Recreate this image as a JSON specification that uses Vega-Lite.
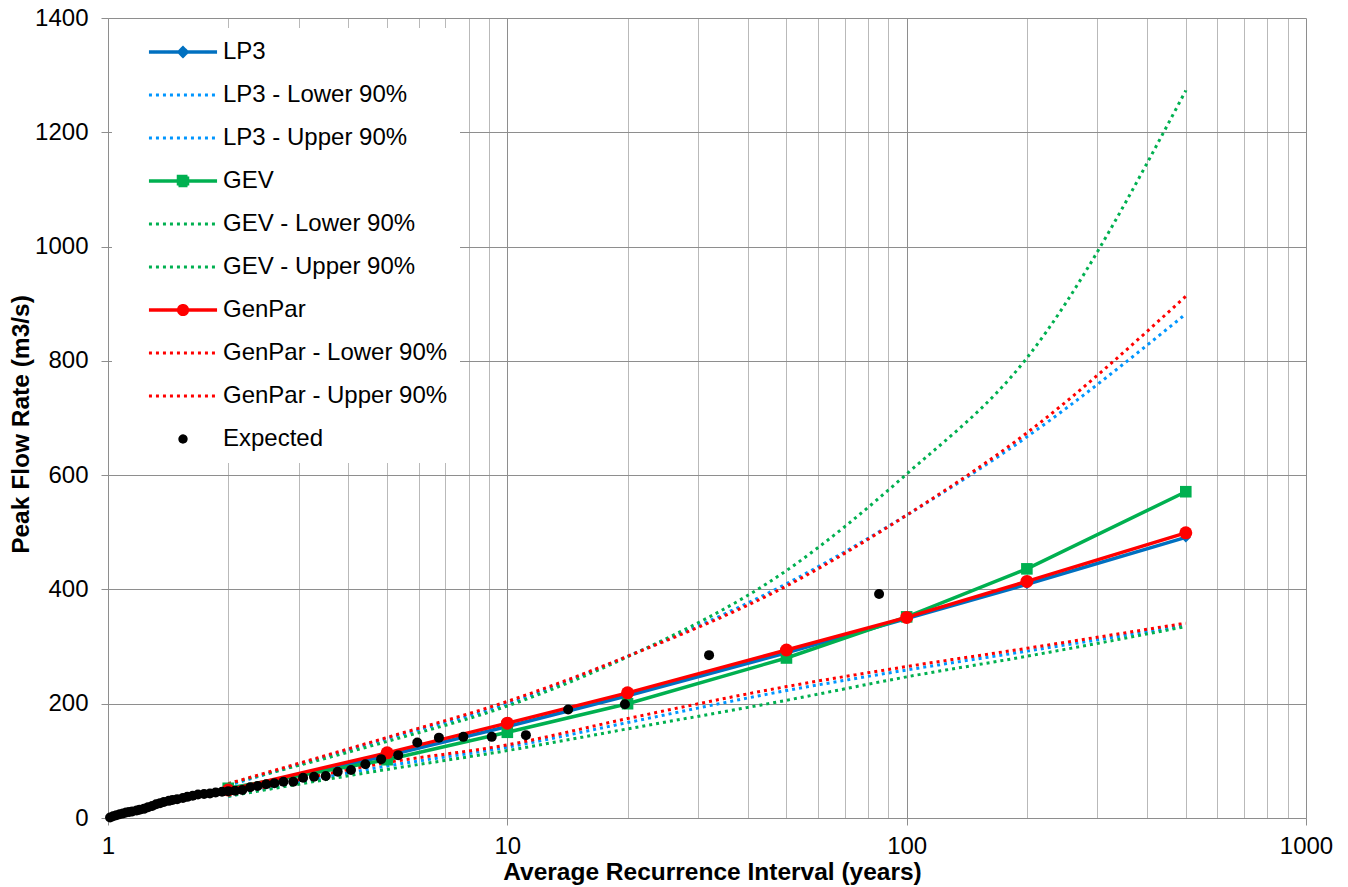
{
  "$schema": "https://vega.github.io/schema/vega-lite/v6.json",
  "width": 1198,
  "height": 800,
  "autosize": "none",
  "padding": {"left": 108, "top": 18, "right": 42, "bottom": 69},
  "background": "#ffffff",
  "config": {
    "view": {"stroke": null},
    "font": "Liberation Sans",
    "axis": {"labelFont": "Liberation Sans", "titleFont": "Liberation Sans", "labelColor": "#000000", "titleColor": "#000000"}
  },
  "datasets": {
    "curves": [
      {"series": "LP3 - Lower 90%", "kind": "ci", "T": 2, "Q": 38},
      {"series": "LP3 - Lower 90%", "kind": "ci", "T": 5, "Q": 91},
      {"series": "LP3 - Lower 90%", "kind": "ci", "T": 10, "Q": 124},
      {"series": "LP3 - Lower 90%", "kind": "ci", "T": 20, "Q": 167},
      {"series": "LP3 - Lower 90%", "kind": "ci", "T": 50, "Q": 223},
      {"series": "LP3 - Lower 90%", "kind": "ci", "T": 100, "Q": 259},
      {"series": "LP3 - Lower 90%", "kind": "ci", "T": 200, "Q": 292},
      {"series": "LP3 - Lower 90%", "kind": "ci", "T": 500, "Q": 337},
      {"series": "LP3 - Upper 90%", "kind": "ci", "T": 2, "Q": 57},
      {"series": "LP3 - Upper 90%", "kind": "ci", "T": 5, "Q": 139},
      {"series": "LP3 - Upper 90%", "kind": "ci", "T": 10, "Q": 200},
      {"series": "LP3 - Upper 90%", "kind": "ci", "T": 20, "Q": 283},
      {"series": "LP3 - Upper 90%", "kind": "ci", "T": 50, "Q": 410},
      {"series": "LP3 - Upper 90%", "kind": "ci", "T": 100, "Q": 530},
      {"series": "LP3 - Upper 90%", "kind": "ci", "T": 200, "Q": 667},
      {"series": "LP3 - Upper 90%", "kind": "ci", "T": 500, "Q": 882},
      {"series": "GEV - Lower 90%", "kind": "ci", "T": 2, "Q": 38},
      {"series": "GEV - Lower 90%", "kind": "ci", "T": 5, "Q": 85},
      {"series": "GEV - Lower 90%", "kind": "ci", "T": 10, "Q": 118},
      {"series": "GEV - Lower 90%", "kind": "ci", "T": 20, "Q": 156},
      {"series": "GEV - Lower 90%", "kind": "ci", "T": 50, "Q": 206},
      {"series": "GEV - Lower 90%", "kind": "ci", "T": 100, "Q": 247},
      {"series": "GEV - Lower 90%", "kind": "ci", "T": 200, "Q": 283},
      {"series": "GEV - Lower 90%", "kind": "ci", "T": 500, "Q": 335},
      {"series": "GEV - Upper 90%", "kind": "ci", "T": 2, "Q": 60},
      {"series": "GEV - Upper 90%", "kind": "ci", "T": 5, "Q": 134},
      {"series": "GEV - Upper 90%", "kind": "ci", "T": 10, "Q": 196},
      {"series": "GEV - Upper 90%", "kind": "ci", "T": 20, "Q": 282},
      {"series": "GEV - Upper 90%", "kind": "ci", "T": 50, "Q": 433},
      {"series": "GEV - Upper 90%", "kind": "ci", "T": 100, "Q": 602},
      {"series": "GEV - Upper 90%", "kind": "ci", "T": 200, "Q": 805},
      {"series": "GEV - Upper 90%", "kind": "ci", "T": 500, "Q": 1273},
      {"series": "GenPar - Lower 90%", "kind": "ci", "T": 2, "Q": 40},
      {"series": "GenPar - Lower 90%", "kind": "ci", "T": 5, "Q": 97},
      {"series": "GenPar - Lower 90%", "kind": "ci", "T": 10, "Q": 128},
      {"series": "GenPar - Lower 90%", "kind": "ci", "T": 20, "Q": 174},
      {"series": "GenPar - Lower 90%", "kind": "ci", "T": 50, "Q": 230},
      {"series": "GenPar - Lower 90%", "kind": "ci", "T": 100, "Q": 265},
      {"series": "GenPar - Lower 90%", "kind": "ci", "T": 200, "Q": 297},
      {"series": "GenPar - Lower 90%", "kind": "ci", "T": 500, "Q": 341},
      {"series": "GenPar - Upper 90%", "kind": "ci", "T": 2, "Q": 60},
      {"series": "GenPar - Upper 90%", "kind": "ci", "T": 5, "Q": 141},
      {"series": "GenPar - Upper 90%", "kind": "ci", "T": 10, "Q": 204},
      {"series": "GenPar - Upper 90%", "kind": "ci", "T": 20, "Q": 283},
      {"series": "GenPar - Upper 90%", "kind": "ci", "T": 50, "Q": 406},
      {"series": "GenPar - Upper 90%", "kind": "ci", "T": 100, "Q": 530},
      {"series": "GenPar - Upper 90%", "kind": "ci", "T": 200, "Q": 674},
      {"series": "GenPar - Upper 90%", "kind": "ci", "T": 500, "Q": 913},
      {"series": "LP3", "kind": "main", "T": 2, "Q": 48},
      {"series": "LP3", "kind": "main", "T": 5, "Q": 109},
      {"series": "LP3", "kind": "main", "T": 10, "Q": 160},
      {"series": "LP3", "kind": "main", "T": 20, "Q": 214},
      {"series": "LP3", "kind": "main", "T": 50, "Q": 289},
      {"series": "LP3", "kind": "main", "T": 100, "Q": 349},
      {"series": "LP3", "kind": "main", "T": 200, "Q": 409},
      {"series": "LP3", "kind": "main", "T": 500, "Q": 491},
      {"series": "GEV", "kind": "main", "T": 2, "Q": 52},
      {"series": "GEV", "kind": "main", "T": 5, "Q": 102},
      {"series": "GEV", "kind": "main", "T": 10, "Q": 150},
      {"series": "GEV", "kind": "main", "T": 20, "Q": 200},
      {"series": "GEV", "kind": "main", "T": 50, "Q": 280},
      {"series": "GEV", "kind": "main", "T": 100, "Q": 352},
      {"series": "GEV", "kind": "main", "T": 200, "Q": 436},
      {"series": "GEV", "kind": "main", "T": 500, "Q": 571},
      {"series": "GenPar", "kind": "main", "T": 2, "Q": 49},
      {"series": "GenPar", "kind": "main", "T": 5, "Q": 114},
      {"series": "GenPar", "kind": "main", "T": 10, "Q": 166},
      {"series": "GenPar", "kind": "main", "T": 20, "Q": 219},
      {"series": "GenPar", "kind": "main", "T": 50, "Q": 294},
      {"series": "GenPar", "kind": "main", "T": 100, "Q": 351},
      {"series": "GenPar", "kind": "main", "T": 200, "Q": 414},
      {"series": "GenPar", "kind": "main", "T": 500, "Q": 499}
    ],
    "expected": [
      {"series": "Expected", "T": 85.3, "Q": 392},
      {"series": "Expected", "T": 32.0, "Q": 285},
      {"series": "Expected", "T": 19.7, "Q": 199},
      {"series": "Expected", "T": 14.2, "Q": 190},
      {"series": "Expected", "T": 11.13, "Q": 145},
      {"series": "Expected", "T": 9.14, "Q": 142},
      {"series": "Expected", "T": 7.76, "Q": 142},
      {"series": "Expected", "T": 6.74, "Q": 140.6},
      {"series": "Expected", "T": 5.95, "Q": 132},
      {"series": "Expected", "T": 5.33, "Q": 110},
      {"series": "Expected", "T": 4.83, "Q": 103},
      {"series": "Expected", "T": 4.41, "Q": 94},
      {"series": "Expected", "T": 4.06, "Q": 84},
      {"series": "Expected", "T": 3.76, "Q": 81},
      {"series": "Expected", "T": 3.51, "Q": 73.5},
      {"series": "Expected", "T": 3.28, "Q": 72.3},
      {"series": "Expected", "T": 3.08, "Q": 70.5},
      {"series": "Expected", "T": 2.91, "Q": 63.5},
      {"series": "Expected", "T": 2.75, "Q": 63.5},
      {"series": "Expected", "T": 2.61, "Q": 60.7},
      {"series": "Expected", "T": 2.49, "Q": 59},
      {"series": "Expected", "T": 2.37, "Q": 56},
      {"series": "Expected", "T": 2.27, "Q": 53.7},
      {"series": "Expected", "T": 2.17, "Q": 49},
      {"series": "Expected", "T": 2.08, "Q": 47.8},
      {"series": "Expected", "T": 2.0, "Q": 47},
      {"series": "Expected", "T": 1.93, "Q": 46},
      {"series": "Expected", "T": 1.86, "Q": 44.5},
      {"series": "Expected", "T": 1.80, "Q": 43},
      {"series": "Expected", "T": 1.74, "Q": 42},
      {"series": "Expected", "T": 1.68, "Q": 41},
      {"series": "Expected", "T": 1.63, "Q": 39},
      {"series": "Expected", "T": 1.58, "Q": 37},
      {"series": "Expected", "T": 1.54, "Q": 35},
      {"series": "Expected", "T": 1.49, "Q": 33},
      {"series": "Expected", "T": 1.45, "Q": 31.5},
      {"series": "Expected", "T": 1.42, "Q": 30},
      {"series": "Expected", "T": 1.38, "Q": 28},
      {"series": "Expected", "T": 1.35, "Q": 26},
      {"series": "Expected", "T": 1.32, "Q": 24},
      {"series": "Expected", "T": 1.29, "Q": 21},
      {"series": "Expected", "T": 1.26, "Q": 19},
      {"series": "Expected", "T": 1.23, "Q": 16},
      {"series": "Expected", "T": 1.20, "Q": 14.5},
      {"series": "Expected", "T": 1.18, "Q": 13},
      {"series": "Expected", "T": 1.15, "Q": 11.5},
      {"series": "Expected", "T": 1.13, "Q": 10.5},
      {"series": "Expected", "T": 1.11, "Q": 9.5},
      {"series": "Expected", "T": 1.09, "Q": 8},
      {"series": "Expected", "T": 1.07, "Q": 6.5},
      {"series": "Expected", "T": 1.05, "Q": 5},
      {"series": "Expected", "T": 1.03, "Q": 3},
      {"series": "Expected", "T": 1.012, "Q": 1}
    ]
  },
  "layer": [
    {
      "data": {"name": "curves"},
      "transform": [{"filter": "datum.kind === 'ci'"}],
      "mark": {"type": "line", "strokeWidth": 3, "interpolate": "monotone", "strokeCap": "butt"},
      "encoding": {
        "x": {
          "field": "T", "type": "quantitative",
          "scale": {"type": "log", "domain": [1, 1000], "nice": false},
          "axis": {
            "orient": "bottom",
            "values": [2, 3, 4, 5, 6, 7, 8, 9, 20, 30, 40, 50, 60, 70, 80, 90, 200, 300, 400, 500, 600, 700, 800, 900],
            "labels": false, "ticks": false, "domain": false, "grid": true,
            "gridColor": "#b9b9b9", "gridWidth": 1, "title": null
          }
        },
        "y": {
          "field": "Q", "type": "quantitative",
          "scale": {"domain": [0, 1400], "nice": false},
          "axis": {
            "orient": "left",
            "values": [0, 200, 400, 600, 800, 1000, 1200, 1400],
            "grid": true, "gridColor": "#8e8e8e", "gridWidth": 1,
            "domain": true, "domainColor": "#8e8e8e", "domainWidth": 1,
            "ticks": true, "tickColor": "#8e8e8e", "tickSize": 7,
            "labelFontSize": 24, "labelPadding": 13, "format": "d",
            "title": "Peak Flow Rate (m3/s)", "titleFontSize": 24.5, "titleFontWeight": "bold",
            "titleAngle": 270, "titleBaseline": "alphabetic", "titleAlign": "center",
            "titleX": -80, "titleY": 406
          }
        },
        "color": {
          "field": "series", "type": "nominal",
          "scale": {
            "domain": ["LP3", "LP3 - Lower 90%", "LP3 - Upper 90%", "GEV", "GEV - Lower 90%", "GEV - Upper 90%", "GenPar", "GenPar - Lower 90%", "GenPar - Upper 90%", "Expected"],
            "range": ["#0070C0", "#0096FF", "#0096FF", "#00B050", "#00B050", "#00B050", "#FF0000", "#FF0000", "#FF0000", "#000000"]
          },
          "legend": {
            "orient": "none", "legendX": 4, "legendY": 10, "title": null,
            "padding": 12, "fillColor": "#ffffff",
            "labelFont": "Liberation Sans", "labelFontSize": 24, "labelColor": "#000000", "labelLimit": 500,
            "symbolSize": 900, "symbolOffset": 47, "labelOffset": 28, "rowPadding": 19,
            "symbolStrokeWidth": 3,
            "encode": {
              "symbols": {
                "update": {
                  "shape": {"signal": "datum.value === 'LP3' ? 'M-2.27,0H2.27M0,-0.27L0.27,0L0,0.27L-0.27,0Z' : datum.value === 'GEV' ? 'M-2.27,0H2.27M-0.3,-0.3H0.3V0.3H-0.3Z' : datum.value === 'GenPar' ? 'M-2.27,0H2.27M-0.29,0A0.29,0.29,0,1,1,0.29,0A0.29,0.29,0,1,1,-0.29,0Z' : datum.value === 'Expected' ? 'M-0.21,0A0.21,0.21,0,1,1,0.21,0A0.21,0.21,0,1,1,-0.21,0Z' : 'M-2.27,0H2.27'"},
                  "fill": {"scale": "color", "field": "value"},
                  "stroke": {"scale": "color", "field": "value"},
                  "strokeDash": {"scale": "strokeDash", "field": "value"},
                  "strokeWidth": {"signal": "indexof(['LP3','GEV','GenPar'], datum.value) >= 0 ? 3.5 : 3"},
                  "size": {"value": 900},
                  "opacity": {"value": 1}
                }
              }
            }
          }
        },
        "strokeDash": {
          "field": "series", "type": "nominal",
          "scale": {
            "domain": ["LP3", "LP3 - Lower 90%", "LP3 - Upper 90%", "GEV", "GEV - Lower 90%", "GEV - Upper 90%", "GenPar", "GenPar - Lower 90%", "GenPar - Upper 90%", "Expected"],
            "range": [[1, 0], [3, 4], [3, 4], [1, 0], [3, 4], [3, 4], [1, 0], [3, 4], [3, 4], [1, 0]]
          },
          "legend": null
        }
      }
    },
    {
      "data": {"name": "curves"},
      "transform": [{"filter": "datum.kind === 'main'"}],
      "mark": {"type": "line", "strokeWidth": 3.5},
      "encoding": {
        "x": {
          "field": "T", "type": "quantitative",
          "axis": {
            "orient": "bottom",
            "values": [1, 10, 100, 1000], "format": "d",
            "grid": true, "gridColor": "#8e8e8e", "gridWidth": 1,
            "domain": true, "domainColor": "#8e8e8e", "domainWidth": 1,
            "ticks": true, "tickColor": "#8e8e8e", "tickSize": 7,
            "labelFontSize": 24, "labelPadding": 9, "labelFlush": false,
            "title": "Average Recurrence Interval (years)", "titleFontSize": 24.5, "titleFontWeight": "bold",
            "titleBaseline": "alphabetic", "titleX": 604, "titleY": 61
          }
        },
        "y": {"field": "Q", "type": "quantitative", "axis": null},
        "color": {"field": "series", "type": "nominal"}
      }
    },
    {
      "data": {"name": "curves"},
      "transform": [{"filter": "datum.kind === 'main'"}],
      "mark": {"type": "point", "filled": true, "opacity": 1},
      "encoding": {
        "x": {"field": "T", "type": "quantitative", "axis": null},
        "y": {"field": "Q", "type": "quantitative", "axis": null},
        "color": {"field": "series", "type": "nominal"},
        "shape": {
          "field": "series", "type": "nominal",
          "scale": {"domain": ["LP3", "GEV", "GenPar"], "range": ["diamond", "square", "circle"]},
          "legend": null
        },
        "size": {
          "field": "series", "type": "nominal",
          "scale": {"domain": ["LP3", "GEV", "GenPar"], "range": [100, 169, 156]},
          "legend": null
        }
      }
    },
    {
      "data": {"name": "expected"},
      "mark": {"type": "point", "filled": true, "opacity": 1, "shape": "circle", "size": 100},
      "encoding": {
        "x": {"field": "T", "type": "quantitative", "axis": null},
        "y": {"field": "Q", "type": "quantitative", "axis": null},
        "color": {"field": "series", "type": "nominal"}
      }
    }
  ],
  "resolve": {"axis": {"x": "independent", "y": "independent"}}
}
